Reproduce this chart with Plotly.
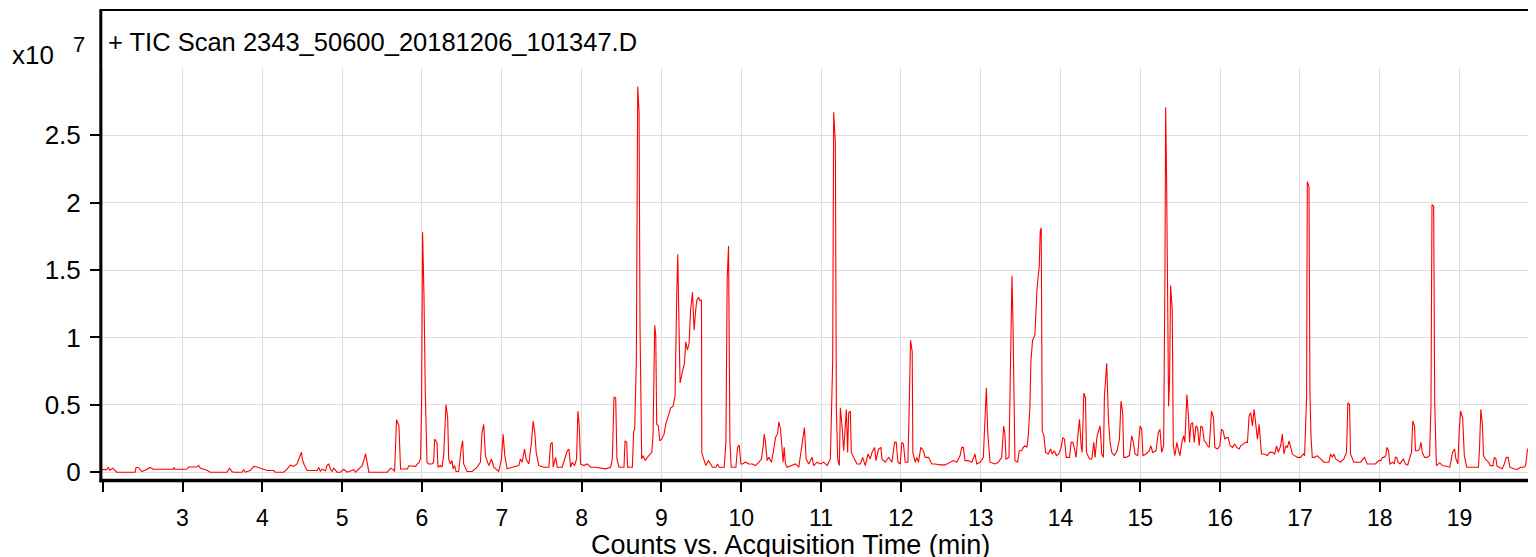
import plotly.graph_objects as go

# ---- data: TIC counts (x10^7) vs acquisition time (min) ----
tic_02_06 = [
    (1.99, 0.019), (2.05, 0.019), (2.07, 0.035), (2.09, 0.014), (2.126, 0.03), (2.155, 0.015),
    (2.176, 0.0), (2.406, 0.0), (2.418, 0.035), (2.448, 0.035), (2.49, 0.005), (2.531, 0.014),
    (2.594, 0.035), (2.636, 0.022), (2.887, 0.022), (2.895, 0.035), (2.908, 0.022), (3.054, 0.022),
    (3.075, 0.038), (3.18, 0.038), (3.201, 0.05), (3.222, 0.03), (3.305, 0.014), (3.347, 0.0),
    (3.556, 0.0), (3.59, 0.03), (3.619, 0.005), (3.64, 0.0), (3.745, 0.0), (3.766, 0.019),
    (3.787, 0.0), (3.849, 0.012), (3.891, 0.043), (3.933, 0.038), (3.975, 0.03), (4.059, 0.012),
    (4.142, 0.012), (4.163, 0.0), (4.268, 0.0), (4.31, 0.022), (4.351, 0.052), (4.393, 0.043),
    (4.435, 0.062), (4.469, 0.107), (4.49, 0.148), (4.502, 0.095), (4.527, 0.052), (4.561, 0.012),
    (4.686, 0.012), (4.707, 0.035), (4.728, 0.005), (4.749, 0.022), (4.791, 0.01), (4.812, 0.052),
    (4.833, 0.06), (4.854, 0.022), (4.874, 0.005), (4.895, 0.03), (4.937, 0.0), (4.979, 0.0),
    (5.021, 0.022), (5.063, 0.0), (5.146, 0.019), (5.167, 0.0), (5.251, 0.048), (5.272, 0.09),
    (5.293, 0.138), (5.314, 0.071), (5.335, 0.0), (5.565, 0.0), (5.607, 0.03), (5.64, 0.019),
    (5.657, 0.005), (5.682, 0.39), (5.711, 0.345), (5.732, 0.024), (5.774, 0.024), (5.816, 0.024),
    (5.837, 0.048), (5.879, 0.043), (5.921, 0.043), (5.941, 0.06), (5.962, 0.071), (5.983, 0.1),
]

tic_06_10 = [
    (5.995, 0.5), (6.008, 1.78), (6.025, 1.32), (6.042, 0.59), (6.063, 0.074), (6.084, 0.061),
    (6.126, 0.061), (6.146, 0.074), (6.159, 0.245), (6.188, 0.22), (6.201, 0.037), (6.23, 0.049),
    (6.251, 0.037), (6.272, 0.123), (6.301, 0.502), (6.322, 0.404), (6.335, 0.098), (6.356, 0.061),
    (6.377, 0.086), (6.389, 0.025), (6.41, 0.049), (6.427, 0.005), (6.46, 0.005), (6.49, 0.172),
    (6.51, 0.233), (6.523, 0.061), (6.565, 0.005), (6.628, 0.005), (6.69, 0.037), (6.732, 0.074),
    (6.753, 0.294), (6.774, 0.355), (6.795, 0.123), (6.837, 0.049), (6.87, 0.098), (6.9, 0.037),
    (6.962, 0.005), (6.996, 0.098), (7.017, 0.282), (7.038, 0.123), (7.067, 0.025), (7.13, 0.037),
    (7.213, 0.049), (7.234, 0.098), (7.255, 0.074), (7.285, 0.172), (7.305, 0.098), (7.339, 0.061),
    (7.372, 0.221), (7.393, 0.38), (7.414, 0.294), (7.431, 0.147), (7.464, 0.049), (7.527, 0.037),
    (7.59, 0.037), (7.611, 0.208), (7.632, 0.221), (7.644, 0.037), (7.674, 0.11), (7.695, 0.037),
    (7.757, 0.037), (7.82, 0.159), (7.841, 0.172), (7.862, 0.037), (7.883, 0.074), (7.912, 0.049),
    (7.937, 0.098), (7.954, 0.453), (7.971, 0.343), (7.987, 0.061), (8.029, 0.049), (8.071, 0.061),
    (8.113, 0.037), (8.176, 0.037), (8.238, 0.029), (8.301, 0.025), (8.364, 0.037), (8.385, 0.098),
    (8.406, 0.559), (8.427, 0.551), (8.443, 0.098), (8.469, 0.037), (8.531, 0.037), (8.544, 0.233),
    (8.565, 0.221), (8.577, 0.037), (8.636, 0.037), (8.653, 0.306), (8.665, 0.319), (8.686, 0.833),
    (8.703, 2.863), (8.72, 2.672), (8.732, 1.078), (8.753, 0.098), (8.77, 0.123), (8.795, 0.086),
    (8.824, 0.11), (8.845, 0.123), (8.879, 0.147), (8.895, 0.27), (8.916, 1.091), (8.929, 1.017),
    (8.941, 0.355), (8.962, 0.343), (8.979, 0.233), (9.004, 0.245), (9.033, 0.282), (9.054, 0.355),
    (9.088, 0.429), (9.117, 0.478), (9.146, 0.49), (9.171, 0.564), (9.192, 1.324), (9.205, 1.618),
    (9.222, 1.029), (9.234, 0.662), (9.264, 0.748), (9.289, 0.809), (9.305, 0.968), (9.326, 0.907),
    (9.347, 0.956), (9.364, 1.189), (9.389, 1.336), (9.41, 1.054), (9.431, 1.213), (9.444, 1.275),
    (9.464, 1.299), (9.481, 1.275), (9.502, 1.275), (9.506, 0.147), (9.523, 0.11), (9.556, 0.049),
    (9.59, 0.086), (9.619, 0.061), (9.64, 0.037), (9.682, 0.037), (9.703, 0.061), (9.724, 0.037),
    (9.787, 0.037), (9.808, 0.221), (9.824, 1.434), (9.841, 1.679), (9.858, 0.233), (9.874, 0.037),
    (9.933, 0.037), (9.954, 0.184), (9.975, 0.201), (9.996, 0.061),
]

tic_10_14 = [
    (10.013, 0.061), (10.054, 0.074), (10.096, 0.061), (10.138, 0.061), (10.179, 0.049),
    (10.221, 0.074), (10.254, 0.098), (10.275, 0.196), (10.288, 0.282), (10.304, 0.221),
    (10.325, 0.086), (10.346, 0.11), (10.379, 0.074), (10.408, 0.172), (10.429, 0.257),
    (10.454, 0.282), (10.471, 0.373), (10.492, 0.319), (10.513, 0.172), (10.525, 0.074),
    (10.538, 0.184), (10.554, 0.061), (10.575, 0.037), (10.638, 0.049), (10.679, 0.061),
    (10.721, 0.037), (10.763, 0.221), (10.792, 0.331), (10.813, 0.098), (10.846, 0.061),
    (10.888, 0.11), (10.908, 0.049), (10.95, 0.074), (10.992, 0.061), (11.033, 0.074),
    (11.075, 0.049), (11.117, 0.098), (11.138, 0.515), (11.146, 0.833), (11.158, 2.672),
    (11.179, 2.451), (11.192, 0.466), (11.208, 0.098), (11.229, 0.049), (11.242, 0.478),
    (11.263, 0.343), (11.283, 0.159), (11.304, 0.343), (11.317, 0.466), (11.333, 0.147),
    (11.346, 0.441), (11.367, 0.453), (11.379, 0.147), (11.408, 0.11), (11.45, 0.061),
    (11.492, 0.061), (11.521, 0.11), (11.554, 0.049), (11.588, 0.135), (11.617, 0.098),
    (11.638, 0.147), (11.671, 0.184), (11.688, 0.086), (11.721, 0.172), (11.75, 0.184),
    (11.763, 0.098), (11.804, 0.074), (11.846, 0.11), (11.888, 0.074), (11.921, 0.221),
    (11.942, 0.221), (11.963, 0.074), (11.992, 0.061), (12.013, 0.221), (12.033, 0.208),
    (12.054, 0.074), (12.088, 0.074), (12.104, 0.466), (12.121, 0.98), (12.142, 0.895),
    (12.15, 0.147), (12.179, 0.074), (12.2, 0.11), (12.221, 0.074), (12.25, 0.184),
    (12.283, 0.159), (12.304, 0.11), (12.346, 0.11), (12.388, 0.061), (12.429, 0.061),
    (12.492, 0.054), (12.554, 0.054), (12.617, 0.074), (12.658, 0.086), (12.7, 0.074),
    (12.742, 0.123), (12.763, 0.184), (12.783, 0.184), (12.804, 0.086), (12.846, 0.086),
    (12.888, 0.074), (12.929, 0.135), (12.95, 0.061), (12.992, 0.074), (13.033, 0.11),
    (13.054, 0.453), (13.071, 0.625), (13.088, 0.294), (13.117, 0.074), (13.179, 0.061),
    (13.221, 0.074), (13.263, 0.11), (13.288, 0.343), (13.304, 0.282), (13.317, 0.098),
    (13.354, 0.11), (13.371, 0.686), (13.392, 1.458), (13.404, 1.127), (13.421, 0.564),
    (13.429, 0.086), (13.463, 0.074), (13.483, 0.159), (13.513, 0.159), (13.533, 0.184),
    (13.554, 0.196), (13.579, 0.184), (13.596, 0.27), (13.617, 0.49), (13.629, 0.821),
    (13.65, 0.98), (13.679, 1.017), (13.692, 1.25), (13.704, 1.348), (13.721, 1.458),
    (13.733, 1.52), (13.746, 1.789), (13.758, 1.814), (13.771, 0.306), (13.792, 0.27),
    (13.813, 0.147), (13.846, 0.135), (13.875, 0.172), (13.896, 0.135), (13.921, 0.159),
    (13.95, 0.123), (13.979, 0.135),
]

tic_14_18 = [
    (14.008, 0.184), (14.029, 0.257), (14.05, 0.245), (14.071, 0.11), (14.113, 0.11),
    (14.133, 0.221), (14.154, 0.221), (14.175, 0.172), (14.196, 0.11), (14.217, 0.27),
    (14.238, 0.392), (14.258, 0.196), (14.271, 0.147), (14.292, 0.588), (14.313, 0.551),
    (14.325, 0.147), (14.363, 0.098), (14.392, 0.098), (14.417, 0.221), (14.433, 0.11),
    (14.458, 0.27), (14.496, 0.343), (14.517, 0.135), (14.538, 0.11), (14.55, 0.564),
    (14.579, 0.809), (14.6, 0.392), (14.621, 0.221), (14.642, 0.147), (14.675, 0.123),
    (14.708, 0.159), (14.738, 0.245), (14.758, 0.527), (14.779, 0.441), (14.792, 0.11),
    (14.821, 0.11), (14.863, 0.123), (14.892, 0.27), (14.913, 0.221), (14.933, 0.135),
    (14.967, 0.123), (14.996, 0.343), (15.017, 0.319), (15.033, 0.123), (15.071, 0.135),
    (15.113, 0.159), (15.133, 0.196), (15.154, 0.147), (15.196, 0.159), (15.225, 0.294),
    (15.246, 0.319), (15.267, 0.147), (15.292, 0.196), (15.308, 1.446), (15.317, 2.708),
    (15.329, 2.181), (15.342, 1.324), (15.354, 0.49), (15.367, 0.711), (15.379, 1.385),
    (15.4, 1.201), (15.413, 0.196), (15.433, 0.123), (15.458, 0.221), (15.475, 0.172),
    (15.496, 0.123), (15.521, 0.221), (15.542, 0.27), (15.558, 0.221), (15.583, 0.576),
    (15.6, 0.441), (15.617, 0.221), (15.633, 0.355), (15.654, 0.368), (15.675, 0.221),
    (15.696, 0.343), (15.717, 0.331), (15.738, 0.196), (15.758, 0.343), (15.779, 0.331),
    (15.8, 0.233), (15.821, 0.221), (15.842, 0.196), (15.863, 0.184), (15.892, 0.453),
    (15.917, 0.404), (15.933, 0.184), (15.967, 0.172), (15.996, 0.196), (16.017, 0.319),
    (16.038, 0.306), (16.058, 0.245), (16.079, 0.257), (16.1, 0.257), (16.125, 0.196),
    (16.154, 0.184), (16.183, 0.208), (16.208, 0.184), (16.238, 0.172), (16.258, 0.196),
    (16.288, 0.208), (16.321, 0.221), (16.342, 0.221), (16.363, 0.417), (16.383, 0.441),
    (16.404, 0.343), (16.425, 0.466), (16.446, 0.368), (16.467, 0.245), (16.488, 0.355),
    (16.517, 0.135), (16.55, 0.135), (16.592, 0.123), (16.621, 0.147), (16.654, 0.147),
    (16.683, 0.135), (16.708, 0.196), (16.729, 0.147), (16.758, 0.196), (16.779, 0.282),
    (16.8, 0.135), (16.821, 0.196), (16.842, 0.184), (16.863, 0.233), (16.883, 0.184),
    (16.904, 0.135), (16.933, 0.123), (16.967, 0.11), (17.008, 0.11), (17.042, 0.135),
    (17.058, 0.123), (17.071, 0.343), (17.083, 0.564), (17.092, 2.157), (17.113, 2.12),
    (17.125, 0.588), (17.138, 0.27), (17.154, 0.11), (17.183, 0.11), (17.217, 0.123),
    (17.258, 0.098), (17.3, 0.074), (17.363, 0.074), (17.383, 0.135), (17.404, 0.11),
    (17.425, 0.135), (17.446, 0.098), (17.475, 0.086), (17.508, 0.074), (17.55, 0.098),
    (17.583, 0.147), (17.6, 0.515), (17.621, 0.502), (17.633, 0.135), (17.654, 0.098),
    (17.675, 0.074), (17.758, 0.074), (17.808, 0.11), (17.842, 0.061), (17.946, 0.061),
    (17.988, 0.086),
]

tic_18_20 = [
    (18.013, 0.086), (18.034, 0.11), (18.055, 0.11), (18.076, 0.123), (18.089, 0.184),
    (18.11, 0.159), (18.127, 0.061), (18.16, 0.074), (18.181, 0.061), (18.194, 0.11),
    (18.211, 0.11), (18.228, 0.074), (18.253, 0.061), (18.278, 0.086), (18.295, 0.098),
    (18.321, 0.061), (18.35, 0.054), (18.371, 0.098), (18.397, 0.147), (18.413, 0.38),
    (18.435, 0.343), (18.447, 0.159), (18.477, 0.159), (18.498, 0.172), (18.515, 0.221),
    (18.532, 0.147), (18.561, 0.11), (18.591, 0.11), (18.624, 0.123), (18.641, 0.49),
    (18.654, 1.985), (18.675, 1.973), (18.688, 0.515), (18.709, 0.049), (18.73, 0.061),
    (18.751, 0.069), (18.785, 0.049), (18.835, 0.044), (18.878, 0.037), (18.911, 0.147),
    (18.937, 0.172), (18.954, 0.098), (18.979, 0.061), (18.996, 0.319), (19.013, 0.453),
    (19.038, 0.404), (19.059, 0.123), (19.089, 0.037), (19.236, 0.037), (19.249, 0.172),
    (19.266, 0.466), (19.287, 0.343), (19.299, 0.123), (19.321, 0.098), (19.342, 0.086),
    (19.363, 0.074), (19.384, 0.049), (19.418, 0.049), (19.434, 0.11), (19.456, 0.098),
    (19.468, 0.044), (19.502, 0.037), (19.532, 0.025), (19.553, 0.049), (19.586, 0.11),
    (19.608, 0.11), (19.629, 0.037), (19.679, 0.025), (19.721, 0.02), (19.764, 0.037),
    (19.806, 0.037), (19.827, 0.049), (19.848, 0.159), (19.865, 0.184), (19.882, 0.319),
    (19.899, 0.417), (19.916, 0.515), (19.932, 0.441), (19.949, 0.319), (19.966, 0.245),
    (19.99, 0.2),
]

x_tick_vals = list(range(2, 21))
x_tick_text = [""] + [str(v) for v in range(3, 21)]
y_tick_vals = [0, 0.5, 1, 1.5, 2, 2.5]
y_tick_text = ["0", "0.5", "1", "1.5", "2", "2.5"]

title_text = "+ TIC Scan 2343_50600_20181206_101347.D"
x_title_text = "Counts vs. Acquisition Time (min)"

segments = [tic_02_06, tic_06_10, tic_10_14, tic_14_18, tic_18_20]
times = [p[0] for seg in segments for p in seg]
counts = [p[1] for seg in segments for p in seg]

FONT = "Liberation Sans, Arial, sans-serif"

fig = go.Figure()
fig.add_trace(go.Scatter(x=times, y=counts, mode="lines",
                         line=dict(color="#ff0000", width=1.1), hoverinfo="x+y"))

# the page body adds an 8 px margin; the figure is sized to fit inside the window
OFF = 8
W, H = 1536 - OFF, 557 - OFF
# plot area in page pixels: x 101..1536, y 68..480
L, R, T = 101 - OFF, 0, 68 - OFF
B = H - (480 - OFF)
pw, ph = W - L - R, H - T - B


def px_x(px):
    return (px - OFF - L) / pw


def px_y(py):
    return (H - B - (py - OFF)) / ph


fig.update_layout(
    width=W, height=H,
    margin=dict(l=L, r=R, t=T, b=B, pad=0),
    paper_bgcolor="white", plot_bgcolor="white",
    showlegend=False,
    font=dict(family=FONT, color="black"),
    xaxis=dict(range=[1.979, 19.957], tickmode="array", tickvals=x_tick_vals,
               ticktext=x_tick_text, ticks="outside", ticklen=11, tickwidth=1.5,
               tickcolor="black", showgrid=True, gridcolor="#dedede", gridwidth=1,
               showline=False, zeroline=False, tickfont=dict(size=23, family=FONT),
               ticklabelstandoff=6),
    yaxis=dict(range=[-0.058, 3.0], tickmode="array", tickvals=y_tick_vals,
               ticktext=y_tick_text, ticks="outside", ticklen=10, tickwidth=1.5,
               tickcolor="black", showgrid=True, gridcolor="#dedede", gridwidth=1,
               showline=False, zeroline=False, tickfont=dict(size=26, family=FONT),
               ticklabelstandoff=4),
)

top_y = px_y(10)
fig.add_shape(type="line", xref="paper", yref="paper", x0=px_x(100.8), x1=px_x(100.8),
              y0=px_y(482.2), y1=top_y, line=dict(color="black", width=3))
fig.add_shape(type="line", xref="paper", yref="paper", x0=px_x(99.5), x1=1.0,
              y0=px_y(480.5), y1=px_y(480.5), line=dict(color="black", width=3.5))
fig.add_shape(type="line", xref="paper", yref="paper", x0=px_x(99.5), x1=1.0,
              y0=top_y, y1=top_y, line=dict(color="black", width=2))

fig.add_annotation(xref="paper", yref="paper", x=px_x(106), y=px_y(41.5), text=title_text,
                   showarrow=False, xanchor="left", yanchor="middle",
                   font=dict(size=25.5, family=FONT, color="black"))
fig.add_annotation(xref="paper", yref="paper", x=px_x(10), y=px_y(55), text="x10",
                   showarrow=False, xanchor="left", yanchor="middle",
                   font=dict(size=26, family=FONT, color="black"))
fig.add_annotation(xref="paper", yref="paper", x=px_x(71), y=px_y(44), text="7",
                   showarrow=False, xanchor="left", yanchor="middle",
                   font=dict(size=22, family=FONT, color="black"))
fig.add_annotation(xref="paper", yref="paper", x=px_x(790.5), y=px_y(545), text=x_title_text,
                   showarrow=False, xanchor="center", yanchor="middle",
                   font=dict(size=27, family=FONT, color="black"))

fig.write_html("out.html")
